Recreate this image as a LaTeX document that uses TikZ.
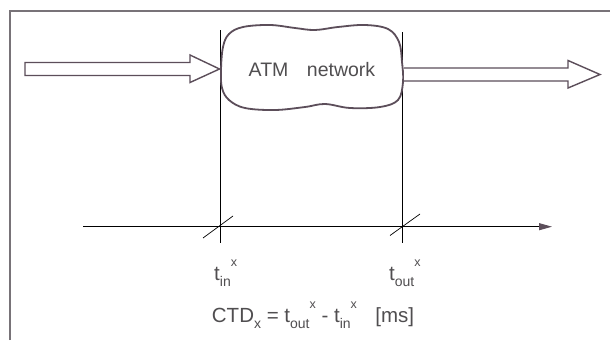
\documentclass[tikz,border=0pt]{standalone}
\usepackage{fontspec}
\setmainfont{Liberation Sans}
\usetikzlibrary{arrows.meta}
\definecolor{ink}{RGB}{92,78,90}
\definecolor{txt}{RGB}{80,78,80}
\definecolor{thin}{RGB}{125,122,125}
\definecolor{framec}{RGB}{120,115,120}
\tikzset{
  frameline/.style={framec, line width=1.3pt},
  bigarrow/.style={ink, line width=1.4pt, fill=white, line join=miter},
  cloudline/.style={ink, line width=1.8pt, fill=white},
  guide/.style={thin, line width=0.7pt},
  axisline/.style={thin, line width=0.9pt, -{Triangle[length=13pt,width=7pt,color=ink]}},
  tick/.style={thin, line width=0.7pt},
  lbl/.style={txt, inner sep=0pt, anchor=base west, font=\fontsize{20.5}{22}\selectfont},
}
\newcommand{\sbx}[1]{\raisebox{-6pt}{\fontsize{14}{15}\selectfont #1}}
\newcommand{\spx}[1]{\raisebox{14pt}{\fontsize{12.5}{13}\selectfont #1}}
\begin{document}
\begin{tikzpicture}[x=1pt,y=-1pt]
\useasboundingbox (0,0) rectangle (610,340);
\fill[white] (0,0) rectangle (610,340);
% frame
\draw[frameline] (10,340) -- (10,11) -- (610,11);
% guide lines
\coordinate (gin1) at (220.5,30);
\coordinate (gin2) at (220.5,243);
\coordinate (gout1) at (402.5,32);
\coordinate (gout2) at (402.5,243);
\draw[guide] (gin1) -- (gin2);
\draw[guide] (gout1) -- (gout2);
% cloud
\draw[cloudline] plot[smooth cycle, tension=0.6] coordinates {
 (221,70) (223,47) (229,34) (243,27) (270,25) (295,28) (315,30)
 (338,27) (365,25) (388,29) (399,42) (402,62) (403,82) (398,100)
 (380,107) (350,108) (325,104) (305,107) (275,110) (245,108) (229,100) (222,88)};
\node[txt, font=\fontsize{19.5}{21}\selectfont, inner sep=0pt] (net) at (312,70) {ATM\hspace{0.95em}network};
% input arrow
\draw[bigarrow] (25,62.5) -- (190,62.5) -- (190,55) -- (219.5,69) -- (190,82.5) -- (190,75.5) -- (25,75.5) -- cycle;
% output arrow
\draw[bigarrow] (404,68) -- (568,68) -- (568,60.5) -- (600,74.5) -- (568,88) -- (568,81) -- (404,81);
% time axis
\coordinate (ax0) at (83,226.7);
\coordinate (ax1) at (552,226.7);
\draw[axisline] (ax0) -- (ax1);
\draw[tick] (203,238) -- (233,216);
\draw[tick] (390,235.5) -- (420,214);
% labels
\node[lbl] (tin) at (214,280) {t\sbx{in}\spx{x}};
\node[lbl] (tout) at (389,280) {t\sbx{out}\spx{x}};
\node[lbl, anchor=base] (ctd) at (313,322) {CTD\sbx{x} = t\sbx{out}\spx{x} - t\sbx{in}\spx{x}\hspace{0.9em}[ms]};
\end{tikzpicture}
\end{document}
